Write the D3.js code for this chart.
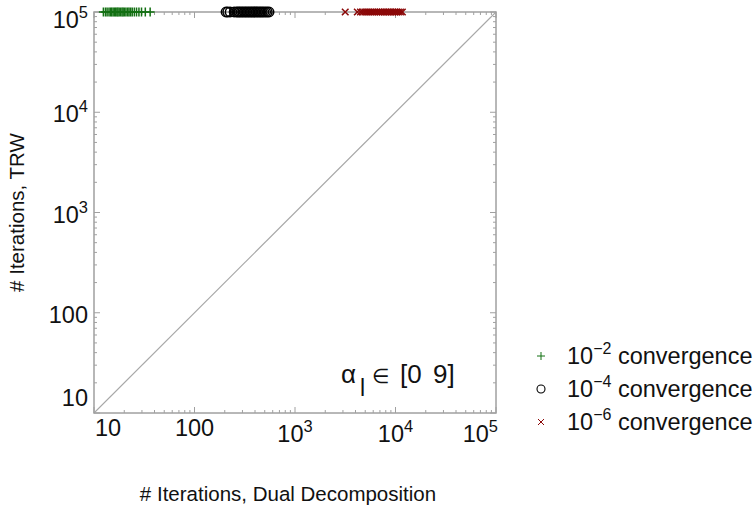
<!DOCTYPE html>
<html>
<head>
<meta charset="utf-8">
<script src="https://cdn.jsdelivr.net/npm/d3@7"></script>
<style>
  body { margin: 0; background: #fff; }
  svg { font-family: "Liberation Sans", Arial, sans-serif; }
</style>
</head>
<body>
<div id="chart"></div>
<script>
// Iterations needed by dual decomposition (x) and TRW (y), one list per tolerance.
var dd2  = [12.4, 13.0, 13.5, 14.1, 14.6, 15.0, 15.5, 16.0, 16.4, 16.9, 17.3, 17.8, 18.4, 19.0,
            19.5, 20.1, 20.8, 21.6, 22.3, 23.1, 24.0, 25.2, 26.5, 28.0, 29.7, 32.4, 36.2];
var trw2 = [1e5, 1e5, 1e5, 1e5, 1e5, 1e5, 1e5, 1e5, 1e5, 1e5, 1e5, 1e5, 1e5, 1e5,
            1e5, 1e5, 1e5, 1e5, 1e5, 1e5, 1e5, 1e5, 1e5, 1e5, 1e5, 1e5, 1e5];
var dd4  = [206, 214, 226, 248, 262, 271, 280, 290, 300, 311, 322, 333, 345, 357,
            369, 382, 395, 410, 425, 440, 456, 472, 490, 510, 530, 552];
var trw4 = [1e5, 1e5, 1e5, 1e5, 1e5, 1e5, 1e5, 1e5, 1e5, 1e5, 1e5, 1e5, 1e5, 1e5,
            1e5, 1e5, 1e5, 1e5, 1e5, 1e5, 1e5, 1e5, 1e5, 1e5, 1e5, 1e5];
var dd6  = [3160, 4170, 4480, 4700, 4950, 5200, 5450, 5700, 5950, 6200, 6500, 6800, 7100,
            7400, 7700, 8000, 8350, 8700, 9050, 9400, 9800, 10200, 10700, 11200, 11700];
var trw6 = [1e5, 1e5, 1e5, 1e5, 1e5, 1e5, 1e5, 1e5, 1e5, 1e5, 1e5, 1e5, 1e5,
            1e5, 1e5, 1e5, 1e5, 1e5, 1e5, 1e5, 1e5, 1e5, 1e5, 1e5, 1e5];

var tickValues = [10, 100, 1000, 10000, 100000];
var tickBase   = ["10", "100", "10", "10", "10"];
var tickSup    = ["", "", "3", "4", "5"];
var legendExp  = ["\u22122", "\u22124", "\u22126"];

var chart = { "width": 756, "height": 507 };

var svg = d3.select("#chart").append("svg")
    .attr("width", chart.width)
    .attr("height", chart.height);

var x = d3.scaleLog().domain([10, 1e5]).range([94, 496]);
var y = d3.scaleLog().domain([10, 1e5]).range([413, 12]);

var x0 = x.range()[0], x1 = x.range()[1], y0 = y.range()[0], y1 = y.range()[1];
var grey = "#a0a0a0";

// diagonal y = x
svg.append("line")
    .attr("x1", x(10)).attr("y1", y(10))
    .attr("x2", x(1e5)).attr("y2", y(1e5))
    .attr("stroke", "#a8a8a8").attr("stroke-width", 1.1);

// ticks on all four sides, pointing inwards
var allTicks = x.ticks();
function isMajor(v) { return Math.abs(Math.log10(v) - Math.round(Math.log10(v))) < 1e-9; }

var tk = svg.append("g").attr("stroke", grey).attr("stroke-width", 1);
allTicks.forEach(function(v) {
    var len = isMajor(v) ? 6 : 3;
    tk.append("line").attr("x1", x(v)).attr("x2", x(v)).attr("y1", y0).attr("y2", y0 - len);
    tk.append("line").attr("x1", x(v)).attr("x2", x(v)).attr("y1", y1).attr("y2", y1 + len);
    tk.append("line").attr("y1", y(v)).attr("y2", y(v)).attr("x1", x0).attr("x2", x0 + len);
    tk.append("line").attr("y1", y(v)).attr("y2", y(v)).attr("x1", x1).attr("x2", x1 - len);
});

// frame
svg.append("rect")
    .attr("x", x0).attr("y", y1)
    .attr("width", x1 - x0).attr("height", y0 - y1)
    .attr("fill", "none").attr("stroke", grey).attr("stroke-width", 1.5);

// tick labels
function addLabel(g, base, sup, fs) {
    g.append("tspan").text(base);
    if (sup) g.append("tspan").attr("dy", -10).attr("font-size", fs * 0.7).text(sup);
}

var fsTick = 23.5;
tickValues.forEach(function(v, i) {
    var t = svg.append("text").attr("font-size", fsTick).attr("fill", "#111");
    var anchor = "middle", px = x(v);
    if (i === 0) { anchor = "start"; px = x(v) + 1; }
    if (i === tickValues.length - 1) { anchor = "end"; px = x(v) + 2; }
    t.attr("x", px).attr("y", tickSup[i] ? 442 : 436).attr("text-anchor", anchor);
    addLabel(t, tickBase[i], tickSup[i], fsTick);

    // labels at both ends are pushed inside the page
    var ty = Math.max(Math.min(y(v) + 10, 406), 28);
    var u = svg.append("text").attr("font-size", fsTick).attr("fill", "#111")
        .attr("x", 88).attr("y", ty).attr("text-anchor", "end");
    addLabel(u, tickBase[i], tickSup[i], fsTick);
});

// axis titles
svg.append("text")
    .attr("x", 288).attr("y", 501)
    .attr("text-anchor", "middle").attr("font-size", 20.5).attr("fill", "#111")
    .text("# Iterations, Dual Decomposition");
svg.append("text")
    .attr("transform", "translate(24," + ((y0 + y1) / 2) + ") rotate(-90)")
    .attr("text-anchor", "middle").attr("font-size", 20.5).attr("fill", "#111")
    .text("# Iterations, TRW");

// markers
var green = "#137013", red = "#8b0808";
var plusPath = "M-4.5,0H4.5M0,-4.5V4.5";
var crossPath = "M-3.3,-3.3L3.3,3.3M-3.3,3.3L3.3,-3.3";

svg.append("g").selectAll("path")
    .data(dd2.map(function(d, i) { return [d, trw2[i]]; }))
    .enter().append("path")
    .attr("transform", function(d) { return "translate(" + x(d[0]) + "," + y(d[1]) + ")"; })
    .attr("d", plusPath).attr("stroke", green).attr("stroke-width", 1.5).attr("fill", "none");

svg.append("g").selectAll("circle")
    .data(dd4.map(function(d, i) { return [d, trw4[i]]; }))
    .enter().append("circle")
    .attr("cx", function(d) { return x(d[0]); })
    .attr("cy", function(d) { return y(d[1]); })
    .attr("r", 4.7).attr("stroke", "#000").attr("stroke-width", 1.5).attr("fill", "none");

svg.append("g").selectAll("path")
    .data(dd6.map(function(d, i) { return [d, trw6[i]]; }))
    .enter().append("path")
    .attr("transform", function(d) { return "translate(" + x(d[0]) + "," + y(d[1]) + ")"; })
    .attr("d", crossPath).attr("stroke", red).attr("stroke-width", 1.5).attr("fill", "none");

// annotation
var ann = svg.append("text").attr("y", 383).attr("font-size", 26).attr("fill", "#111");
ann.append("tspan").attr("x", 341).text("\u03b1");
ann.append("tspan").attr("x", 360).attr("dy", 13).attr("font-size", 23).text("l");
ann.append("tspan").attr("x", 372).attr("dy", -13).attr("font-size", 20).text("\u2208");
ann.append("tspan").attr("x", 400).text("[0");
ann.append("tspan").attr("x", 433).text("9]");

// legend
var legend = svg.append("g");
legendExp.forEach(function(e, i) {
    var ly = 356 + i * 33;
    var lx = 541;
    if (i === 0) legend.append("path").attr("transform", "translate(" + lx + "," + ly + ")")
        .attr("d", "M-4,0H4M0,-4V4").attr("stroke", green).attr("stroke-width", 1).attr("fill", "none");
    if (i === 1) legend.append("circle").attr("cx", lx).attr("cy", ly).attr("r", 4)
        .attr("stroke", "#000").attr("stroke-width", 1.1).attr("fill", "none");
    if (i === 2) legend.append("path").attr("transform", "translate(" + lx + "," + ly + ")")
        .attr("d", "M-3,-3L3,3M-3,3L3,-3").attr("stroke", red).attr("stroke-width", 1).attr("fill", "none");
    var t = legend.append("text").attr("x", 567).attr("y", ly + 8).attr("font-size", 23.5).attr("fill", "#111");
    t.append("tspan").text("10");
    t.append("tspan").attr("dy", -10).attr("font-size", 16).text(e);
    t.append("tspan").attr("dy", 10).text(" convergence");
});
</script>
</body>
</html>
